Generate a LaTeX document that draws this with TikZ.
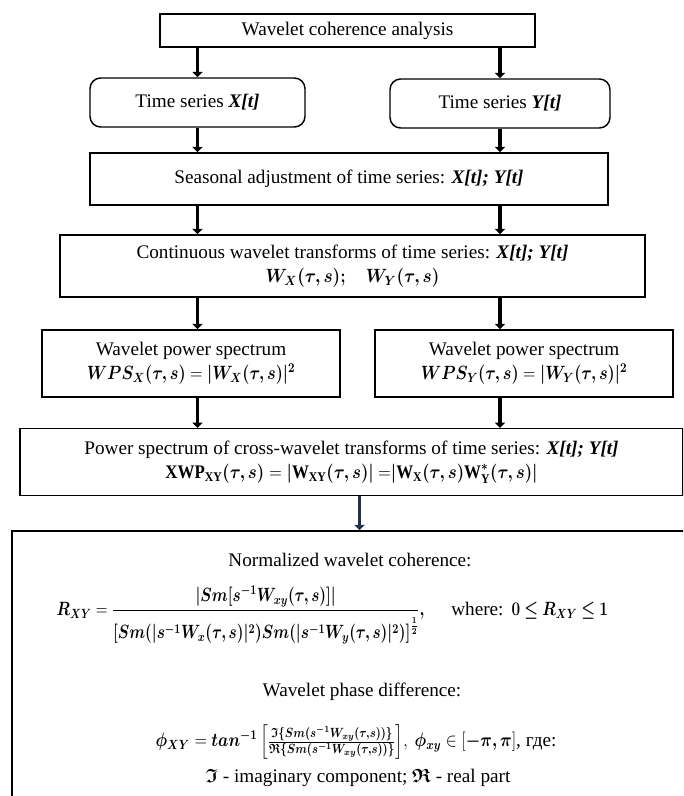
\documentclass[tikz,border=0pt]{standalone}
\usepackage{amsmath,amssymb,bm,graphicx}
\usepackage{fontspec}
\setmainfont{Liberation Serif}
\usetikzlibrary{arrows.meta}
\definecolor{navy}{HTML}{1F3050}
\tikzstyle{block}=[draw, rectangle, line width=1.1pt, align=center, inner sep=2pt]
\tikzstyle{roundblock}=[block, rounded corners=8pt]
\tikzstyle{arr}=[line width=2.6pt, -{Triangle[length=4pt,width=7.5pt]}]
\newcommand{\xyt}{\textbf{\textit{X[t]; Y[t]}}}
\newcommand{\sq}[2]{\scalebox{#1}[1]{#2}}

\begin{document}
\begin{tikzpicture}[x=0.75pt,y=-0.75pt,font=\fontsize{14.4}{18}\selectfont]
  \clip (0,0) rectangle (683,796);
  \node[block, minimum width=281.25pt, minimum height=24.75pt] at (347.5,30.5) (top) {Wavelet coherence analysis};
  \node[roundblock, minimum width=161.25pt, minimum height=36.75pt] at (197.5,102.5) (tsx) {Time series \textbf{\textit{X[t]}}};
  \node[roundblock, minimum width=165pt, minimum height=36.75pt] at (500,103.5) (tsy) {Time series \textbf{\textit{Y[t]}}};
  \node[block, minimum width=388.5pt, minimum height=39pt] at (349,179) (seas) {Seasonal adjustment of time series: \xyt};
  \node[block, minimum width=438.75pt, minimum height=46.5pt] at (352.5,266) (cwt)
    {Continuous wavelet transforms of time series: \xyt\\ \sq{0.9}{$\bm{W_X(\tau,s);\quad W_Y(\tau,s)}$}};
  \node[block, minimum width=223.5pt, minimum height=50.25pt] at (191,363.5) (wpsx)
    {Wavelet power spectrum\\ \sq{0.85}{$\bm{WPS_X(\tau,s)} = \bm{|W_X(\tau,s)|^2}$}};
  \node[block, minimum width=223.5pt, minimum height=50.25pt] at (524,363.5) (wpsy)
    {Wavelet power spectrum\\ \sq{0.85}{$\bm{WPS_Y(\tau,s)} = \bm{|W_Y(\tau,s)|^2}$}};
  \node[block, minimum width=497.25pt, minimum height=50pt] at (351.5,462) (xwp)
    {Power spectrum of cross-wavelet transforms of time series: \xyt\\
     \sq{0.88}{$\bm{\mathrm{XWP}_{\mathrm{XY}}(\tau,s)} = \bm{|\mathrm{W}_{\mathrm{XY}}(\tau,s)|}\ {=}\bm{|\mathrm{W}_{\mathrm{X}}(\tau,s)\mathrm{W}^{*}_{\mathrm{Y}}(\tau,s)|}$}};
  \node[block, minimum width=516pt, minimum height=217.5pt] at (356,676) (res) {};

  % texts of the last block
  \node at (350,560) (nwc) {Normalized wavelet coherence:};
  \node[anchor=west] at (52,615) (rxy) {\sq{0.8}{$\bm{R_{XY}} = \dfrac{\bm{|Sm[s^{-1}W_{xy}(\tau,s)]|}\rule[-5pt]{0pt}{5pt}}{\rule{0pt}{19pt}\bm{[Sm(|s^{-1}W_x(\tau,s)|^2)Sm(|s^{-1}W_y(\tau,s)|^2)]^{\frac{1}{2}}}}\bm{,}$}\hspace{20pt}%
    where:\hspace{6pt}\sq{0.8}{$\bm{0\le R_{XY}\le 1}$}};
  \node at (362,692) (wpd) {Wavelet phase difference:};
  \node at (356,742) (phi) {\sq{0.85}{$\bm{\phi_{XY}} = \bm{tan^{-1}}\left[\frac{\bm{\mathfrak{I}\{Sm(s^{-1}W_{xy}(\tau,s))\}}}{\bm{\mathfrak{R}\{Sm(s^{-1}W_{xy}(\tau,s))\}}}\right]\!,\ \bm{\phi_{xy}} \in [\bm{-\pi,\pi}]$}, где:};
  \node at (358,778) (imre) {$\bm{\mathfrak{I}}$ - imaginary component; $\bm{\mathfrak{R}}$ - real part};

  % arrows
  \draw[arr] (tsx.north |- top.south) -- (tsx.north);
  \draw[arr] (tsy.north |- top.south) -- (tsy.north);
  \draw[arr] (tsx.south) -- (tsx.south |- seas.north);
  \draw[arr] (tsy.south) -- (tsy.south |- seas.north);
  \draw[arr] (tsx.south |- seas.south) -- (tsx.south |- cwt.north);
  \draw[arr] (tsy.south |- seas.south) -- (tsy.south |- cwt.north);
  \draw[arr] (tsx.south |- cwt.south) -- (tsx.south |- wpsx.north);
  \draw[arr] (tsy.south |- cwt.south) -- (tsy.south |- wpsy.north);
  \draw[arr] (tsx.south |- wpsx.south) -- (tsx.south |- xwp.north);
  \draw[arr] (tsy.south |- wpsy.south) -- (tsy.south |- xwp.north);
  \draw[arr, navy] ([xshift=6pt]xwp.south) -- ([xshift=6pt]xwp.south |- res.north);
\end{tikzpicture}
\end{document}
